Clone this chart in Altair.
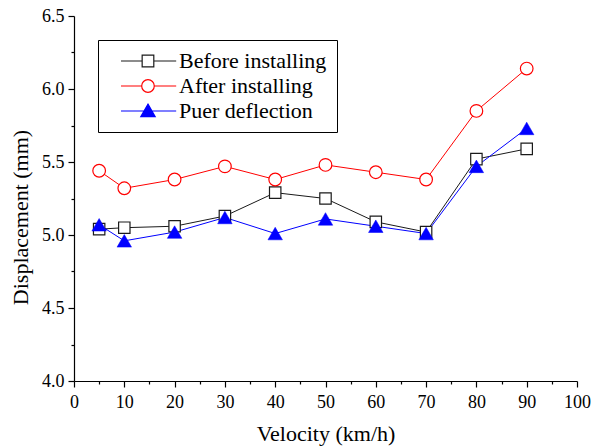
import altair as alt
import pandas as pd

velocity = [5, 10, 20, 30, 40, 50, 60, 70, 80, 90]
before = [5.04, 5.05, 5.06, 5.13, 5.29, 5.25, 5.09, 5.02, 5.52, 5.59]
after = [5.44, 5.32, 5.38, 5.47, 5.38, 5.48, 5.43, 5.38, 5.85, 6.14]
puer = [5.07, 4.96, 5.02, 5.12, 5.01, 5.11, 5.06, 5.01, 5.47, 5.73]

series_names = ["Before installing", "After installing", "Puer deflection"]
line_colors = ["#1a1a1a", "#ff0000", "#0000ff"]
fill_colors = ["#ffffff", "#ffffff", "#0000ff"]
legend_paths = [
    "M0.33,0H3.86M5.8,0H9.53M3.86,-0.97H5.8V0.97H3.86Z",
    "M0.33,0H3.78M5.88,0H9.53M5.88,0A1.05,1.05,0,1,1,3.78,0A1.05,1.05,0,1,1,5.88,0Z",
    "M0.33,0H9.53M4.83,-1.15L6.03,0.95L3.63,0.95Z",
]
x_ticks = list(range(0, 105, 5))
y_ticks = [4.0 + 0.25 * i for i in range(11)]

rows = []
for name, vals in zip(series_names, [before, after, puer]):
    for v, d in zip(velocity, vals):
        rows.append({"velocity": v, "disp": d, "series": name})
df = pd.DataFrame(rows)

FONT = "Liberation Serif"

x_enc = alt.X(
    "velocity:Q",
    scale=alt.Scale(domain=[0, 100], nice=False, zero=False),
    axis=alt.Axis(
        values=x_ticks,
        title="Velocity (km/h)",
        labelExpr="datum.value % 10 === 0 ? datum.label : ''",
        tickSize={"condition": {"test": "datum.value % 10 === 0", "value": 6}, "value": 3},
        labelFlush=False,
        labelOverlap=False,
        labelPadding=6,
        titlePadding=12,
    ),
)
y_enc = alt.Y(
    "disp:Q",
    scale=alt.Scale(domain=[4.0, 6.5], nice=False, zero=False),
    axis=alt.Axis(
        values=y_ticks,
        title="Displacement (mm)",
        format=".1f",
        labelExpr="round(datum.value * 4) % 2 === 0 ? datum.label : ''",
        tickSize={"condition": {"test": "round(datum.value * 4) % 2 === 0", "value": 6}, "value": 3},
        labelFlush=False,
        labelOverlap=False,
        labelPadding=4,
        titlePadding=9,
        titleY=201,
    ),
)

legend = alt.Legend(
    title=None,
    orient="none",
    legendX=24,
    legendY=24,
    strokeColor="black",
    padding=10,
    symbolSize=144,
    symbolStrokeWidth=1.2,
    symbolFillColor="#ffffff",
    symbolStrokeColor="#000000",
    labelFont=FONT,
    labelFontSize=22,
    labelColor="black",
    labelOffset=49,
    rowPadding=3,
)

base = alt.Chart(df)

line_layers = [
    base.transform_filter(alt.datum.series == name)
    .mark_line(strokeWidth=1, color=col)
    .encode(x=x_enc, y=y_enc)
    for name, col in zip(series_names, line_colors)
]

squares = base.transform_filter(alt.datum.series == series_names[0]).mark_point(
    shape="square", size=130, filled=True, fill="white", stroke=line_colors[0],
    strokeWidth=1.2, opacity=1,
).encode(x=x_enc, y=y_enc)

circles = base.transform_filter(alt.datum.series == series_names[1]).mark_point(
    shape="circle", size=160, filled=True, fill="white", stroke=line_colors[1],
    strokeWidth=1.2, opacity=1,
).encode(x=x_enc, y=y_enc)

triangles = base.transform_filter(alt.datum.series == series_names[2]).mark_point(
    shape="triangle-up", size=210, filled=True, fill=line_colors[2], stroke=line_colors[2],
    strokeWidth=0.5, opacity=1,
).encode(x=x_enc, y=y_enc)

legend_layer = base.mark_point(opacity=0, filled=False).encode(
    x=x_enc, y=y_enc,
    color=alt.Color("series:N", scale=alt.Scale(domain=series_names, range=line_colors), legend=legend),
    fill=alt.Fill("series:N", scale=alt.Scale(domain=series_names, range=fill_colors), legend=legend),
    shape=alt.Shape("series:N", scale=alt.Scale(domain=series_names, range=legend_paths), legend=legend),
)

chart = alt.layer(*line_layers, squares, circles, triangles, legend_layer).properties(
    width=503,
    height=365,
    autosize=alt.AutoSizeParams(type="none"),
    padding={"left": 74, "top": 16, "right": 18, "bottom": 65},
    background="white",
).configure_view(stroke=None).configure_axis(
    grid=False,
    domainColor="black",
    domainWidth=1.2,
    tickColor="black",
    tickWidth=1.2,
    labelFont=FONT,
    labelFontSize=18,
    labelColor="black",
    titleFont=FONT,
    titleFontSize=22,
    titleFontWeight="normal",
    titleColor="black",
)

chart.save("out.html", embed_options={"renderer": "svg", "actions": False})
